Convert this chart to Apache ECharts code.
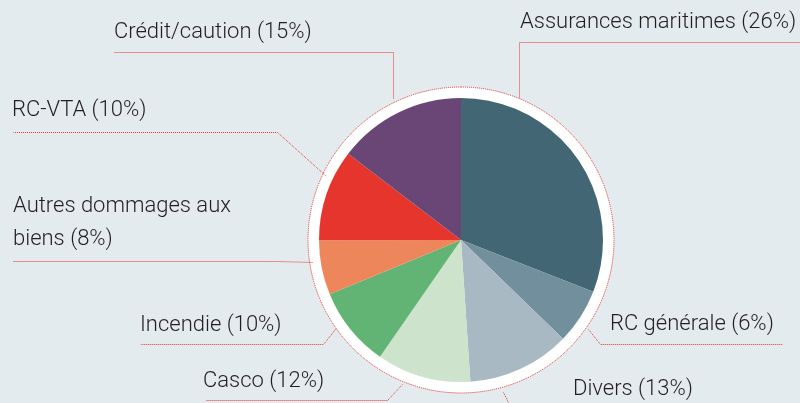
<!DOCTYPE html>
<html>
<head>
<meta charset="utf-8">
<title>Répartition des primes</title>
<script src="https://cdn.jsdelivr.net/npm/echarts@6/dist/echarts.min.js"></script>
<style>
    html, body { margin: 0; padding: 0; background: #e4ebef; }
    #J_chart { width: 800px; height: 403px; }
</style>
</head>
<body>
<div id="J_chart"></div>
<script>
// catégories (sens horaire depuis midi)
var names = ['Assurances maritimes', 'RC générale', 'Divers', 'Casco', 'Incendie', 'Autres dommages aux\nbiens', 'RC-VTA', 'Crédit/caution'];
// pourcentages affichés dans les étiquettes
var pctLabels = [26, 6, 13, 12, 10, 8, 10, 15];
var sliceValues = [30.9, 6.3, 11.7, 10.7, 9.1, 6.2, 10.4, 14.6];
var colors = ['#426674', '#718f9c', '#a8b9c3', '#cde3cc', '#62b475', '#ee865c', '#e6352d', '#6a4677'];

// position des étiquettes et des traits de rappel
var labelPos = [[520, 22], [610, 324], [573, 389], [203, 381], [140, 325], [13, 223], [12, 110], [114, 32]];
var linePts = [
    [[519, 97], [519, 42], [800, 42]],
    [[588, 329], [600, 344], [782, 344]],
    [[503, 392], [512, 410], [700, 410]],
    [[402, 384], [387, 400], [205, 400]],
    [[335, 329], [323, 344], [140, 344]],
    [[312, 262], [277, 261], [13, 261]],
    [[325, 175], [277, 132], [13, 132]],
    [[393, 98], [393, 52], [113, 52]]
];
// décalage d'un demi-pixel pour des pointillés nets
linePts = linePts.map(function(pts) {
    return pts.map(function(p) { return [p[0] + 0.5, p[1] + 0.5]; });
});

var data = [];
for (var i = 0; i < names.length; i++) {
    data.push({
        name: names[i],
        value: sliceValues[i],
        pct: pctLabels[i],
        itemStyle: { color: colors[i] }
    });
}

var chart = echarts.init(document.getElementById('J_chart'));
var option = {
    backgroundColor: '#e4ebef',
    animation: false,
    series: [{
        // anneau blanc avec contour pointillé
        type: 'pie',
        silent: true,
        center: [461, 240],
        radius: 153,
        z: 1,
        label: { show: false },
        labelLine: { show: false },
        itemStyle: {
            color: '#ffffff',
            borderColor: '#e5342b',
            borderWidth: 1,
            borderType: 'dotted'
        },
        data: [{ value: 1, name: 'ring' }]
    }, {
        type: 'pie',
        silent: true,
        center: [461, 240],
        radius: 142,
        startAngle: 90,
        clockwise: true,
        z: 2,
        avoidLabelOverlap: false,
        itemStyle: { borderWidth: 0 },
        label: {
            show: true,
            color: '#231f20',
            fontFamily: 'Roboto',
            fontWeight: 300,
            fontSize: 22,
            lineHeight: 33,
            formatter: function(p) {
                return p.name + ' (' + p.data.pct + '%)';
            }
        },
        labelLine: {
            show: true,
            smooth: false,
            lineStyle: { color: '#e5342b', width: 1, type: 'dotted' }
        },
        labelLayout: function(params) {
            var i = params.dataIndex;
            return {
                x: labelPos[i][0],
                y: labelPos[i][1],
                align: 'left',
                verticalAlign: 'middle',
                labelLinePoints: linePts[i]
            };
        },
        data: data
    }]
};
chart.setOption(option);
</script>
</body>
</html>
